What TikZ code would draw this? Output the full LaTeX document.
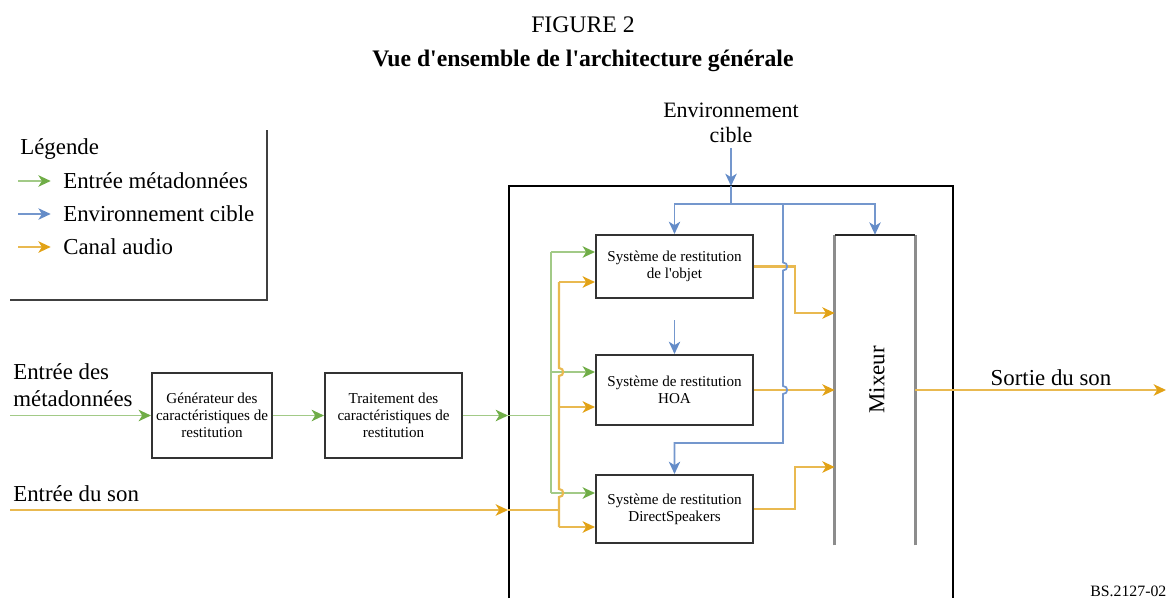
\documentclass[tikz,border=0pt]{standalone}
\usepackage{fontspec}
\setmainfont{Liberation Serif}[Ligatures=TeXOff]
\usetikzlibrary{arrows.meta}
\definecolor{metagreen}{RGB}{112,173,71}
\definecolor{envblue}{RGB}{100,140,200}
\definecolor{audioorange}{RGB}{226,162,22}

\begin{document}
\begin{tikzpicture}[x=0.02cm, y=-0.02cm,
    meta/.style={draw=metagreen!65, line width=1.1pt},
    metaarr/.style={meta, -{Stealth[length=7pt, width=6.5pt, inset=2pt, color=metagreen]}},
    env/.style={draw=envblue!90, line width=1pt},
    envarr/.style={env, -{Stealth[length=7pt, width=6.5pt, inset=2pt, color=envblue]}},
    audio/.style={draw=audioorange!75, line width=1.2pt},
    audioarr/.style={audio, -{Stealth[length=7pt, width=6.5pt, inset=2pt, color=audioorange]}},
    bloc/.style={draw=black!80, line width=1.2pt, fill=white, align=center, inner sep=1pt, font=\fontsize{8.6}{9.8}\selectfont},
    lbl/.style={inner sep=0pt, align=left, font=\fontsize{13}{15}\selectfont}]
    \useasboundingbox (0,0) rectangle (1166,602);

    \node[font=\fontsize{13.5}{15}\selectfont] (fig) at (583,25) {FIGURE 2};
    \node[font=\fontsize{13.5}{15}\selectfont\bfseries] (titre) at (583,61) {Vue d'ensemble de l'architecture générale};

    \draw[black!75, line width=1.2pt] (10,300) -- (267,300) -- (267,130);
    \node[lbl, anchor=west] (leg) at (20,149) {Légende};
    \node[lbl, anchor=west] (lg1) at (63,181) {Entrée métadonnées};
    \node[lbl, anchor=west] (lg2) at (63,214) {Environnement cible};
    \node[lbl, anchor=west] (lg3) at (63,247) {Canal audio};
    \draw[metaarr] ([xshift=-25.5pt]lg1.west) -- ([xshift=-7pt]lg1.west);
    \draw[envarr] ([xshift=-25.5pt]lg2.west) -- ([xshift=-7pt]lg2.west);
    \draw[audioarr] ([xshift=-25.5pt]lg3.west) -- ([xshift=-7pt]lg3.west);

    \draw[black, line width=1pt] (509,598) -- (509,186) -- (953,186) -- (953,598);

    \node[lbl, anchor=west] (metain) at (13,385) {Entrée des\\métadonnées};
    \node[lbl, anchor=west] (sonin) at (13,494) {Entrée du son};
    \node[lbl] (sonout) at (1051,378) {Sortie du son};
    \node[lbl, align=center, font=\fontsize{12.5}{14}\selectfont] (envtxt) at (731,123) {Environnement\\cible};
    \node[inner sep=0pt, anchor=west, font=\fontsize{9}{10}\selectfont] (ref) at (1090,591) {BS.2127-02};

    \node[bloc, minimum width=2.4cm, minimum height=1.7cm] (gen) at (212,415.5) {Générateur des\\caractéristiques de\\restitution};
    \node[bloc, minimum width=2.74cm, minimum height=1.7cm] (trt) at (393.5,415.5) {Traitement des\\caractéristiques de\\restitution};
    \node[bloc, minimum width=3.14cm, minimum height=1.26cm] (obj) at (674.5,266.5) {Système de restitution\\de l'objet};
    \node[bloc, minimum width=3.14cm, minimum height=1.4cm] (hoa) at (674.5,390) {Système de restitution\\HOA};
    \node[bloc, minimum width=3.14cm, minimum height=1.36cm] (ds) at (674.5,509) {Système de restitution\\DirectSpeakers};
    \node[minimum width=1.6cm, minimum height=6.2cm, inner sep=0pt] (mix) at (875,390) {};
    \node[rotate=90, font=\fontsize{13}{15}\selectfont] (mixtxt) at (877,380) {Mixeur};
    \draw[black!45, line width=1.5pt] (mix.south west) -- (mix.north west);
    \draw[black!45, line width=1.5pt] (mix.south east) -- (mix.north east);
    \draw[black!85, line width=1.2pt] (mix.north west) -- (mix.north east);

    \coordinate (min) at (10,415.5);
    \coordinate (gedge) at (508,415.5);
    \coordinate (gt) at (551,415.5);
    \coordinate (g1) at (551,252);
    \coordinate (g2) at (551,372);
    \coordinate (g3) at (551,493);
    \draw[metaarr] (min) -- (gen.west);
    \draw[metaarr] (gen.east) -- (trt.west);
    \draw[metaarr] (trt.east) -- (gedge);
    \draw[meta] (gedge) -- (gt);
    \draw[meta] (g1) -- (g3);
    \draw[metaarr] (g1) -- (g1 -| obj.west);
    \draw[metaarr] (g2) -- (g2 -| hoa.west);
    \draw[metaarr] (g3) -- (g3 -| ds.west);

    \coordinate (ain) at (10,510);
    \coordinate (aedge) at (508,510);
    \coordinate (at) at (559,510);
    \coordinate (a1) at (559,282);
    \coordinate (a2) at (559,407);
    \coordinate (a3) at (559,527);
    \draw[audioarr] (ain) -- (aedge);
    \draw[audio] (aedge) -- (at);
    \draw[audio] (a1) -- (559,368) to[out=0, in=0, looseness=1.8] (559,376) -- (559,489) to[out=0, in=0, looseness=1.8] (559,497) -- (a3);
    \draw[audioarr] (a1) -- (a1 -| obj.west);
    \draw[audioarr] (a2) -- (a2 -| hoa.west);
    \draw[audioarr] (a3) -- (a3 -| ds.west);

    \coordinate (o1) at (795,313);
    \coordinate (o3) at (795,467);
    \coordinate (aout) at (1166,390);
    \draw[audioarr] (obj.east) -| (o1) -- (o1 -| mix.west);
    \draw[audioarr] (hoa.east) -- (hoa.east -| mix.west);
    \draw[audioarr] (ds.east) -| (o3) -- (o3 -| mix.west);
    \draw[audioarr] (hoa.east -| mix.east) -- (aout);

    \coordinate (bin) at (731,186);
    \coordinate (bsplit) at (731,204);
    \coordinate (bv) at (783,204);
    \coordinate (bhoa) at (674.5,320);
    \draw[envarr] ([yshift=-3pt]envtxt.south) -- (bin);
    \draw[env] (bin) -- (bsplit);
    \draw[envarr] (bsplit) -| (obj.north);
    \draw[envarr] (bsplit) -| (mix.north);
    \draw[envarr] (bv) -- (783,262.5) to[out=0, in=0, looseness=1.8] (783,270.5) -- (783,386) to[out=0, in=0, looseness=1.8] (783,394) -- (783,443) -| (ds.north);
    \draw[envarr] (bhoa) -- (hoa.north);
\end{tikzpicture}
\end{document}
